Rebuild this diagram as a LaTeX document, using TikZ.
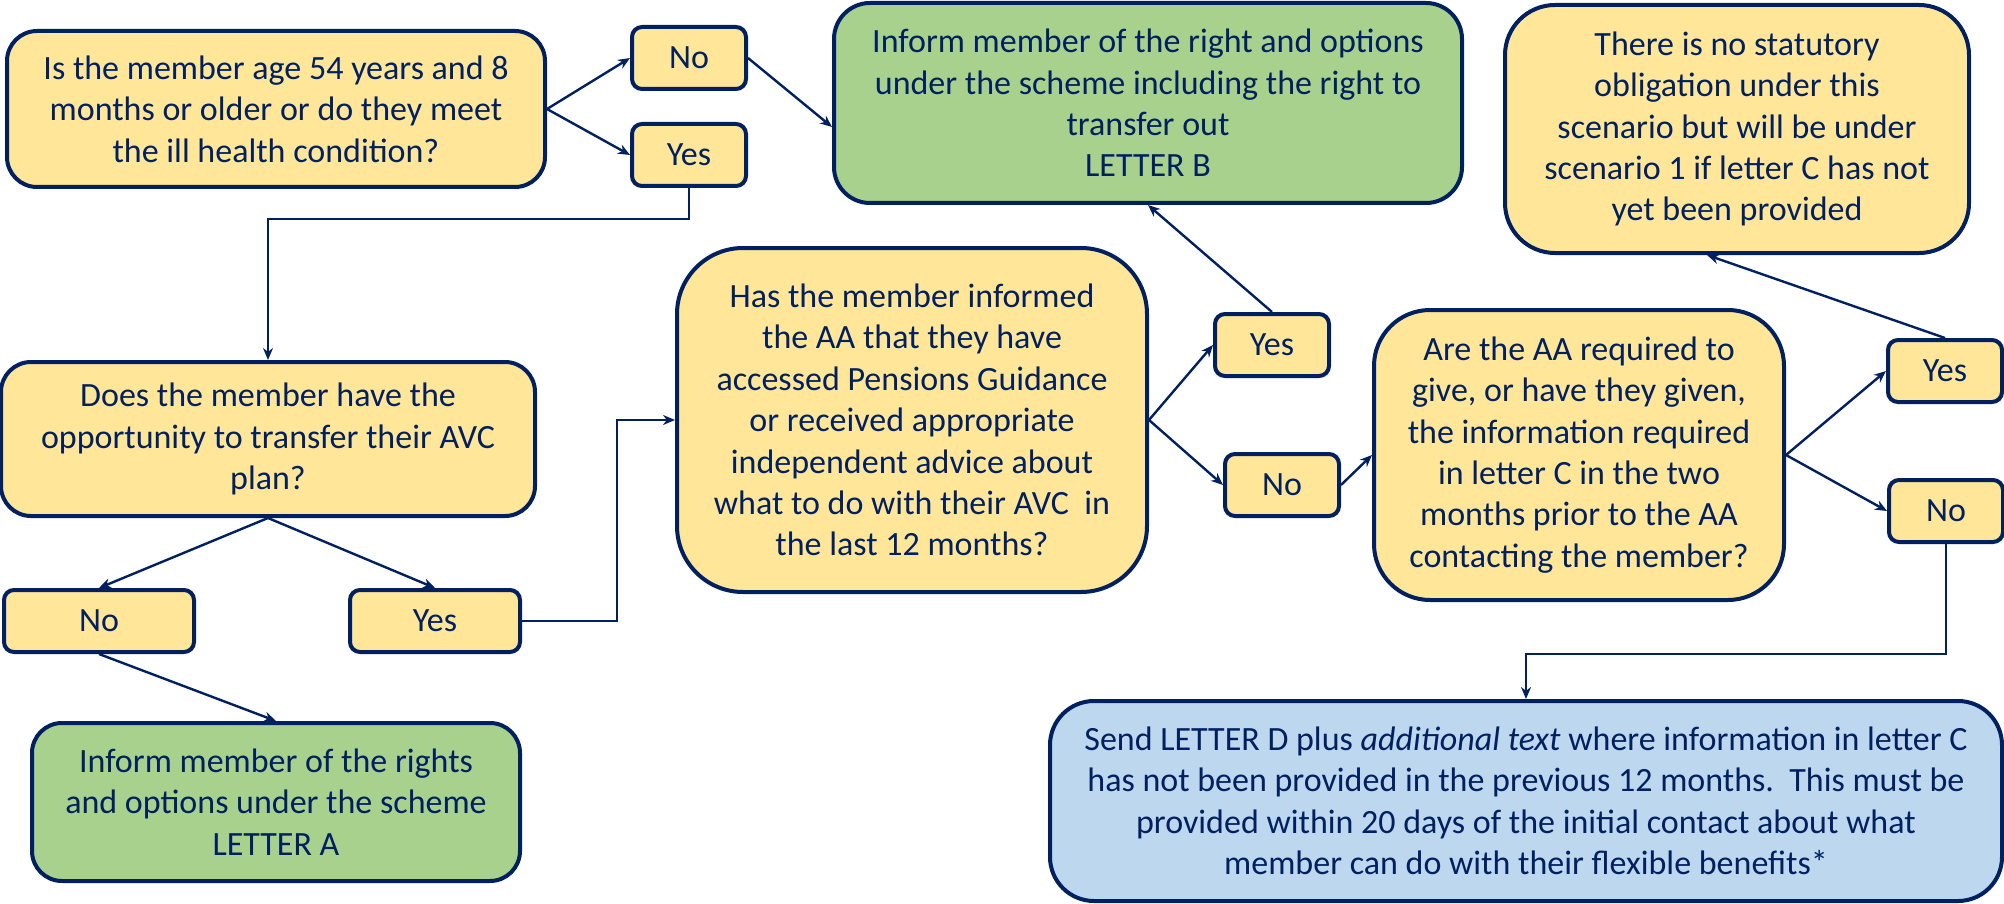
\documentclass[tikz,border=0pt]{standalone}
\usepackage{fontspec}
\setmainfont{Carlito}
\usetikzlibrary{arrows.meta,positioning}
\definecolor{navy}{HTML}{002060}
\definecolor{boxyellow}{HTML}{FFE699}
\definecolor{boxgreen}{HTML}{A9D18E}
\definecolor{boxblue}{HTML}{BDD7EE}

\begin{document}
\begin{tikzpicture}[x=0.5pt,y=-0.5pt,
  box/.style={draw=navy,line width=2pt,text=navy,align=center,inner sep=2pt,font=\fontsize{17}{20.7}\selectfont},
  question/.style={box,fill=boxyellow},
  answer/.style={box,fill=boxyellow,rounded corners=5pt,minimum width=57pt,minimum height=31pt},
  letter/.style={box,fill=boxgreen},
  link/.style={navy,line width=1.2pt,-{Stealth[length=6pt,width=5pt]}}]
  \useasboundingbox (0,0) rectangle (2004,904);

	 \node at (276,109) [question,rounded corners=15pt,minimum width=269pt,minimum height=78pt] (age) {Is the member age 54 years and 8\\months or older or do they meet\\the ill health condition?};
	 \node at (689,58) [answer] (no1) {No};
	 \node at (689,155) [answer] (yes1) {Yes};
	 \node at (1148,103) [letter,rounded corners=18pt,minimum width=314pt,minimum height=100pt] (letterB) {Inform member of the right and options\\under the scheme including the right to\\transfer out\\LETTER B};
	 \node at (1737,129) [question,rounded corners=25pt,minimum width=232pt,minimum height=124pt] (nostat) {There is no statutory\\obligation under this\\scenario but will be under\\scenario 1 if letter C has not\\yet been provided};
	 \node at (268,439) [question,rounded corners=15pt,minimum width=267pt,minimum height=77pt] (avc) {Does the member have the\\opportunity to transfer their AVC\\plan?};
	 \node at (99,621) [answer,minimum width=95pt] (no2) {No};
	 \node at (435,621) [answer,minimum width=85pt] (yes2) {Yes};
	 \node at (276,802) [letter,rounded corners=15pt,minimum width=244pt,minimum height=79pt] (letterA) {Inform member of the rights\\and options under the scheme\\LETTER A};
	 \node at (912,420) [question,rounded corners=33pt,minimum width=235pt,minimum height=172pt] (advice) {Has the member informed\\the AA that they have\\accessed Pensions Guidance\\or received appropriate\\independent advice about\\what to do with their AVC\ \ in\\the last 12 months?};
	 \node at (1272,345) [answer] (yes3) {Yes};
	 \node at (1282,485) [answer] (no3) {No};
	 \node at (1579,455) [question,rounded corners=28pt,minimum width=205pt,minimum height=145pt] (infoC) {Are the AA required to\\give, or have they given,\\the information required\\in letter C in the two\\months prior to the AA\\contacting the member?};
	 \node at (1945,371) [answer] (yes4) {Yes};
	 \node at (1946,511) [answer] (no4) {No};
	 \node at (1526,801) [box,fill=boxblue,rounded corners=22pt,minimum width=476pt,minimum height=100pt] (letterD) {Send LETTER D plus \textit{additional text} where information in letter C\\has not been provided in the previous 12 months.\ \ This must be\\provided within 20 days of the initial contact about what\\member can do with their flexible benefits*};

	 \draw[link] (age.east) -- (no1.west);
	 \draw[link] (age.east) -- (yes1.west);
	 \draw[link] (no1.east) -- ([yshift=-12pt]letterB.west);
	 \draw[link] (yes1.south) -- ++(0,31) -| (avc.north);
	 \draw[link] (avc.south) -- (no2.north);
	 \draw[link] (avc.south) -- (yes2.north);
	 \draw[link] (no2.south) -- (letterA.north);
	 \draw[link] (yes2.east) -- ++(95,0) |- (advice.west);
	 \draw[link] (advice.east) -- (yes3.west);
	 \draw[link] (advice.east) -- (no3.west);
	 \draw[link] (yes3.north) -- (letterB.south);
	 \draw[link] (no3.east) -- (infoC.west);
	 \draw[link] (infoC.east) -- (yes4.west);
	 \draw[link] (infoC.east) -- (no4.west);
	 \draw[link] (yes4.north) -- ([xshift=-15pt]nostat.south);
	 \draw[link] (no4.south) -- ++(0,110) -| (letterD.north);

\end{tikzpicture}
\end{document}
